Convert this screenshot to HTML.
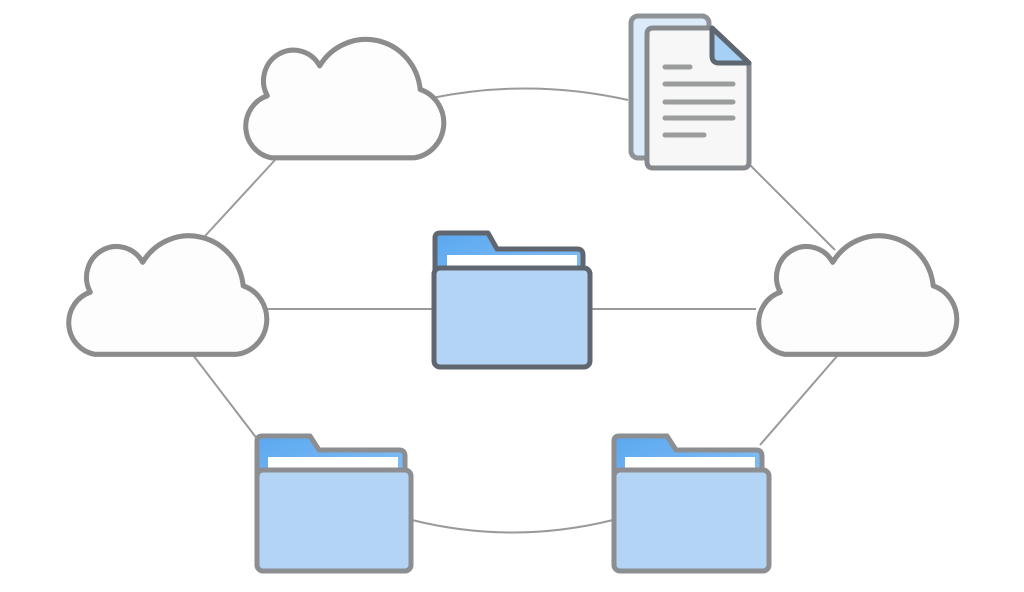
<!DOCTYPE html>
<html><head><meta charset="utf-8"><style>html,body{margin:0;padding:0;background:#fff}svg{display:block}</style></head>
<body>
<svg width="1024" height="592" viewBox="0 0 1024 592" xmlns="http://www.w3.org/2000/svg">
<defs>
<path id="cloud" d="M32,118 A30,30 0 0 1 28,60 A27,27 0 0 1 78,32 A52,52 0 0 1 174,54 A33,33 0 0 1 168,118 Z"/>
<linearGradient id="tab" x1="0" y1="0" x2="1" y2="1"><stop offset="0" stop-color="#5aa8f0"/><stop offset="1" stop-color="#8cc2f5"/></linearGradient>
</defs>
<g stroke="#9a9a9a" stroke-width="2" fill="none">
<path d="M432,98 Q530,78 628,100"/>
<path d="M275,160 L205,236"/>
<path d="M267,309 L433,309"/>
<path d="M591,309 L756,309"/>
<path d="M750,165 L835,250"/>
<path d="M193,355 L258,440"/>
<path d="M838,355 L760,445"/>
<path d="M412,520 Q512,545 613,520"/>
</g>
<g fill="#fdfdfd" stroke="#8c8c8c" stroke-width="4.8" stroke-linejoin="round">
<use href="#cloud" transform="translate(238,31.6) scale(1.047,1.07)"/>
<use href="#cloud" transform="translate(61,228) scale(1.047,1.07)"/>
<use href="#cloud" transform="translate(751,228) scale(1.047,1.07)"/>
</g>
<g stroke-linejoin="round">
<rect x="631" y="16" width="78" height="142" rx="7" fill="#dcebfa" stroke="#8f9397" stroke-width="5"/>
<path d="M653,28 H712 L749,63 V162 Q749,168 743,168 H653 Q647,168 647,162 V34 Q647,28 653,28 Z" fill="#f7f7f7" stroke="#868a8e" stroke-width="5"/>
<path d="M712,28 V56 Q712,63 719,63 H749 Z" fill="#a6d0f5" stroke="#5e6670" stroke-width="5"/>
<g stroke="#9a9c9e" stroke-width="5" stroke-linecap="round">
<line x1="665" y1="67" x2="690" y2="67"/>
<line x1="665" y1="84" x2="733" y2="84"/>
<line x1="665" y1="102" x2="733" y2="102"/>
<line x1="665" y1="118" x2="733" y2="118"/>
<line x1="665" y1="135" x2="704" y2="135"/>
</g>
</g>
<g stroke="#5f6670" stroke-width="5" stroke-linejoin="round">
<path d="M440,233 H488 L497,249 H577 Q583,249 583,255 V300 H435 V238 Q435,233 440,233 Z" fill="url(#tab)"/>
<rect x="447" y="255" width="130" height="14" fill="#fff" stroke="none"/>
<rect x="434" y="268" width="156" height="99" rx="6" fill="#b3d4f5"/>
</g>
<g stroke="#8c8e91" stroke-width="5" stroke-linejoin="round">
<path d="M262,436 H310 L319,450 H399 Q405,450 405,456 V500 H257 V441 Q257,436 262,436 Z" fill="url(#tab)"/>
<rect x="268" y="457" width="130" height="14" fill="#fff" stroke="none"/>
<rect x="257" y="470" width="154" height="101" rx="6" fill="#b3d4f5"/>
<path d="M619,436 H667 L676,450 H756 Q762,450 762,456 V500 H614 V441 Q614,436 619,436 Z" fill="url(#tab)"/>
<rect x="625" y="457" width="130" height="14" fill="#fff" stroke="none"/>
<rect x="614" y="470" width="155" height="101" rx="6" fill="#b3d4f5"/>
</g>
</svg>
</body></html>
